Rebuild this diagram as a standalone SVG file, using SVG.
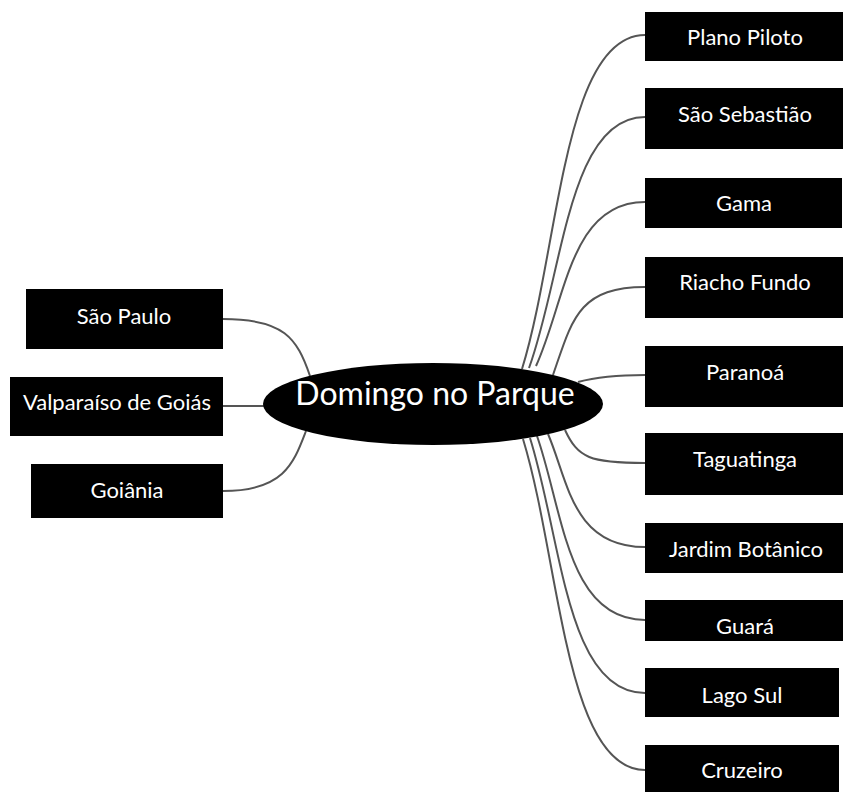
<svg xmlns="http://www.w3.org/2000/svg" width="843" height="792" viewBox="0 0 843 792">
<style>
.box{fill:#000;}
.lbl{font-family:Lato,"Liberation Sans",sans-serif;font-size:22px;fill:#fff;text-anchor:middle;}
.title{font-family:Lato,"Liberation Sans",sans-serif;font-size:32px;fill:#fff;text-anchor:middle;}
.edge{fill:none;stroke:#555;stroke-width:2;}
</style>
<rect width="843" height="792" fill="#fff"/>
<g id="connectors">
<path class="edge" d="M310,376 C297,338 284,319 223,319"/>
<path class="edge" d="M223,406 L266,406"/>
<path class="edge" d="M306,431 C294,462 285,491 223,491"/>
<path class="edge" d="M522,369 C559,250 563,35 645,35"/>
<path class="edge" d="M529,368 C563,275 568,117 645,117"/>
<path class="edge" d="M536,366 C566,300 570,202 645,202"/>
<path class="edge" d="M553,375 C572,320 578,287 645,287"/>
<path class="edge" d="M578,382 C600,376 620,375 645,375"/>
<path class="edge" d="M565,430 C578,458 590,463 645,463"/>
<path class="edge" d="M548,434 C568,480 572,547 645,547"/>
<path class="edge" d="M537,436 C563,510 567,620 645,620"/>
<path class="edge" d="M530,438 C562,540 566,693 645,693"/>
<path class="edge" d="M523,439 C560,560 565,770 645,770"/>
</g>
<g id="center">
<ellipse cx="433" cy="404" rx="170" ry="41" fill="#000"/>
<text class="title" x="435" y="405">Domingo no Parque</text>
</g>
<g id="sao-paulo"><rect class="box" x="26" y="289" width="197" height="60"/><text class="lbl" x="124" y="324">São Paulo</text></g>
<g id="valparaiso"><rect class="box" x="10" y="377" width="213" height="59"/><text class="lbl" x="117" y="410">Valparaíso de Goiás</text></g>
<g id="goiania"><rect class="box" x="31" y="464" width="192" height="54"/><text class="lbl" x="127" y="498">Goiânia</text></g>
<g id="plano-piloto"><rect class="box" x="645" y="12" width="198" height="49"/><text class="lbl" x="745" y="45">Plano Piloto</text></g>
<g id="sao-sebastiao"><rect class="box" x="645" y="88" width="198" height="61"/><text class="lbl" x="745" y="122">São Sebastião</text></g>
<g id="gama"><rect class="box" x="645" y="178" width="197" height="50"/><text class="lbl" x="744" y="211">Gama</text></g>
<g id="riacho-fundo"><rect class="box" x="645" y="257" width="198" height="61"/><text class="lbl" x="745" y="290">Riacho Fundo</text></g>
<g id="paranoa"><rect class="box" x="645" y="346" width="198" height="61"/><text class="lbl" x="745" y="380">Paranoá</text></g>
<g id="taguatinga"><rect class="box" x="645" y="433" width="198" height="62"/><text class="lbl" x="745" y="467">Taguatinga</text></g>
<g id="jardim-botanico"><rect class="box" x="645" y="523" width="198" height="50"/><text class="lbl" x="746" y="557">Jardim Botânico</text></g>
<g id="guara"><rect class="box" x="645" y="600" width="198" height="41"/><text class="lbl" x="745" y="634">Guará</text></g>
<g id="lago-sul"><rect class="box" x="645" y="668" width="194" height="49"/><text class="lbl" x="742" y="703">Lago Sul</text></g>
<g id="cruzeiro"><rect class="box" x="645" y="745" width="194" height="47"/><text class="lbl" x="742" y="778">Cruzeiro</text></g>
</svg>
